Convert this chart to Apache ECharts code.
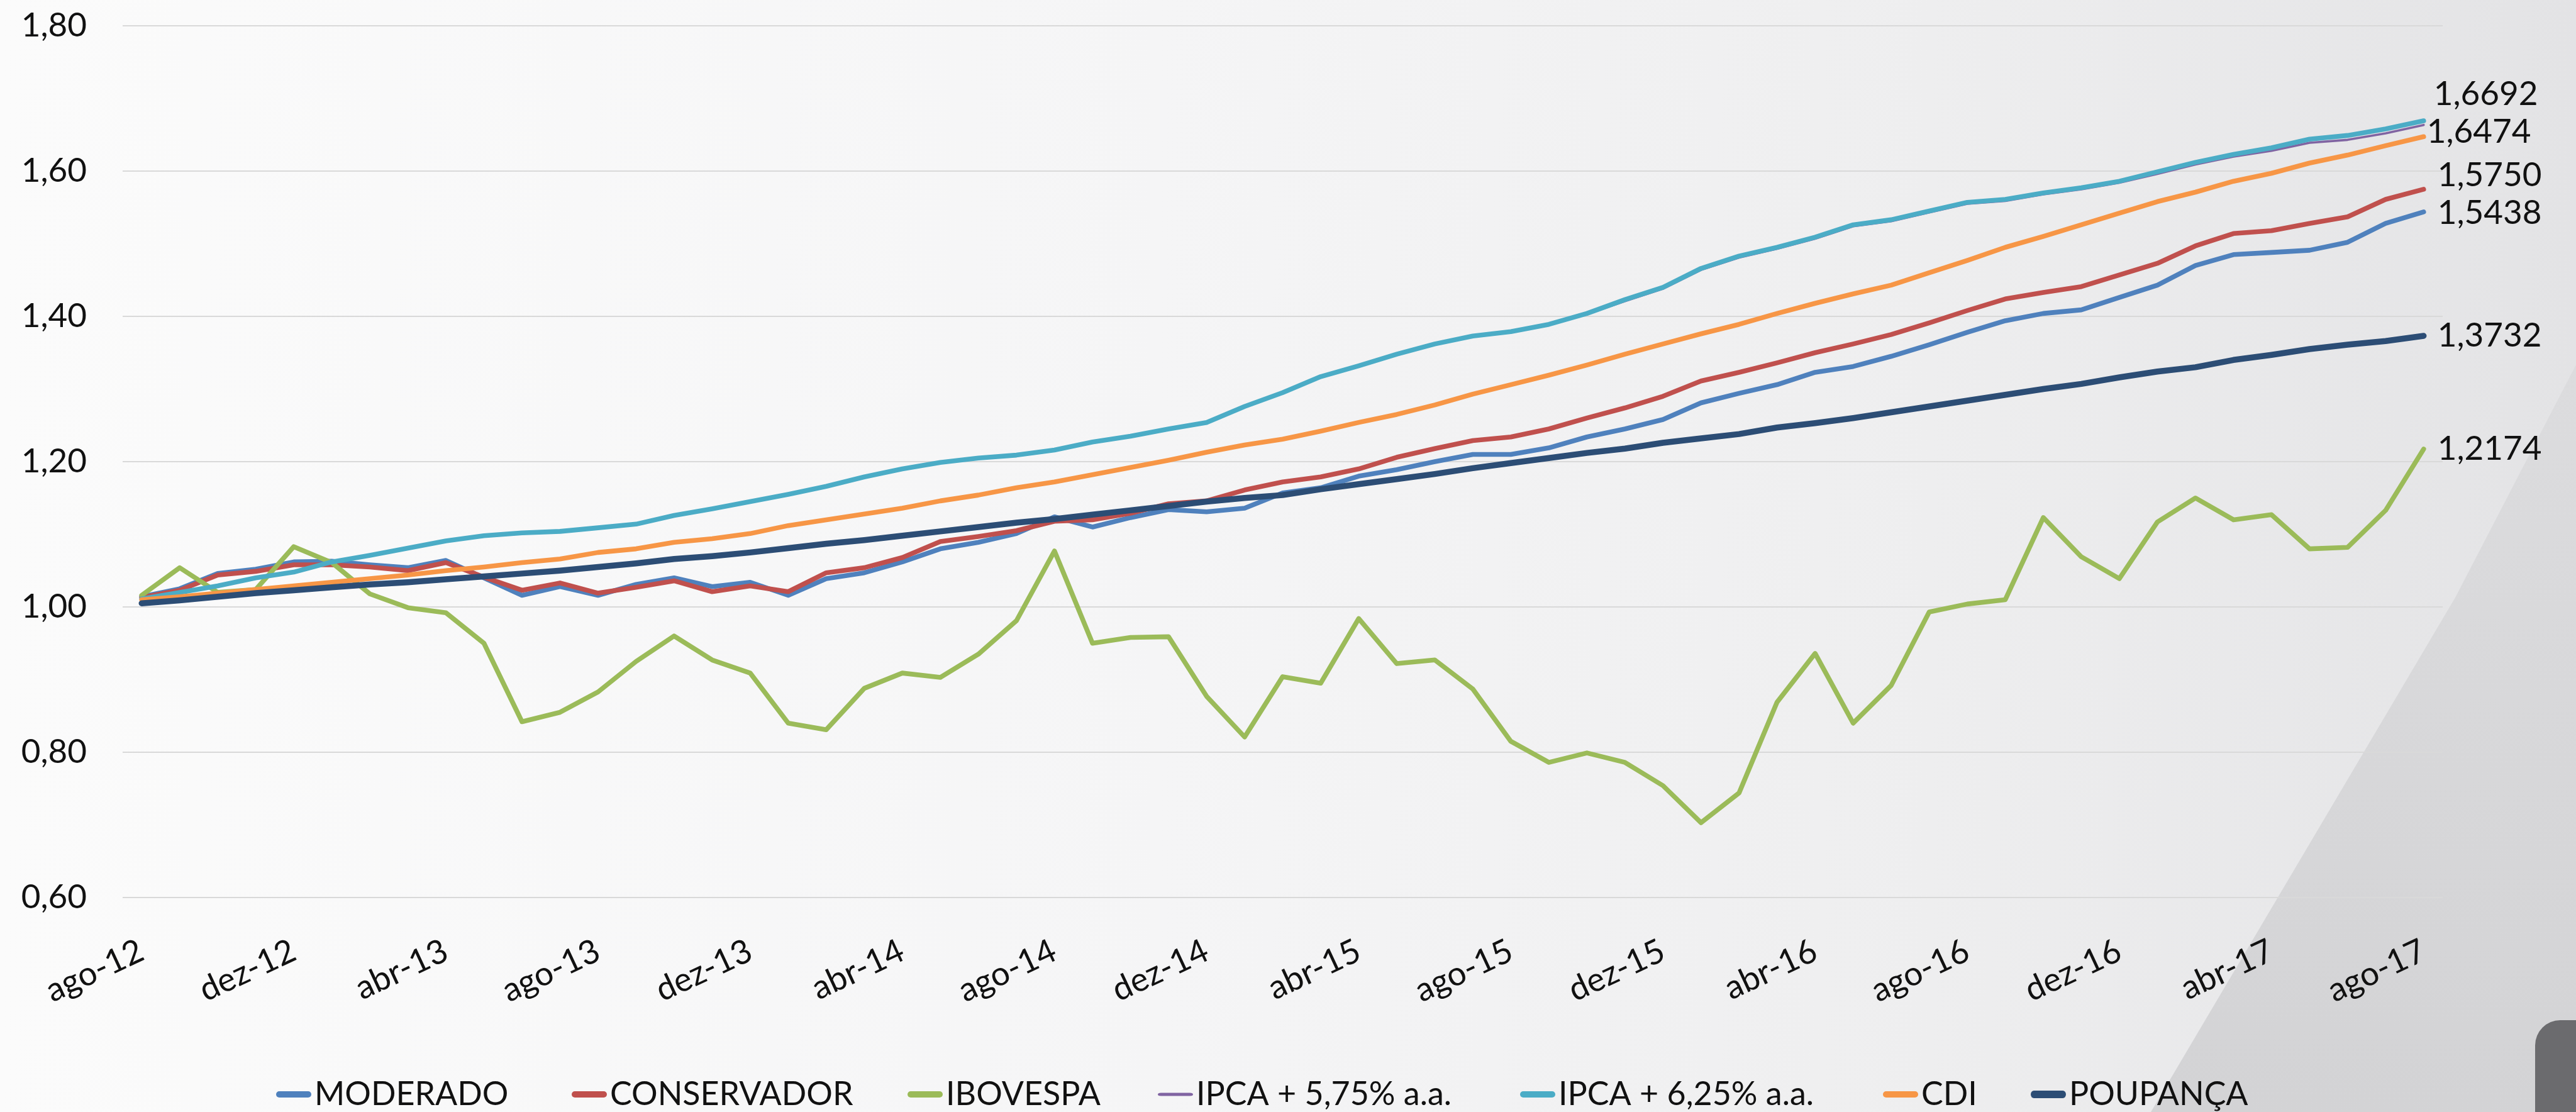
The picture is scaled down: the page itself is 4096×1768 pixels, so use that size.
<!DOCTYPE html>
<html>
<head>
<meta charset="utf-8">
<style>
  html, body { margin: 0; padding: 0; background: #f7f7f7; }
  #chart { width: 4096px; height: 1768px; }
</style>
<script src="https://cdn.jsdelivr.net/npm/echarts@6/dist/echarts.min.js"></script>
</head>
<body>
<div id="chart"></div>
<script>
// meses (ago-12 .. ago-17)
const meses = [
  'ago-12', 'set-12', 'out-12', 'nov-12', 'dez-12',
  'jan-13', 'fev-13', 'mar-13', 'abr-13', 'mai-13', 'jun-13', 'jul-13', 'ago-13', 'set-13', 'out-13', 'nov-13', 'dez-13',
  'jan-14', 'fev-14', 'mar-14', 'abr-14', 'mai-14', 'jun-14', 'jul-14', 'ago-14', 'set-14', 'out-14', 'nov-14', 'dez-14',
  'jan-15', 'fev-15', 'mar-15', 'abr-15', 'mai-15', 'jun-15', 'jul-15', 'ago-15', 'set-15', 'out-15', 'nov-15', 'dez-15',
  'jan-16', 'fev-16', 'mar-16', 'abr-16', 'mai-16', 'jun-16', 'jul-16', 'ago-16', 'set-16', 'out-16', 'nov-16', 'dez-16',
  'jan-17', 'fev-17', 'mar-17', 'abr-17', 'mai-17', 'jun-17', 'jul-17', 'ago-17'
];

const moderado = [
  1.014, 1.025, 1.046, 1.052, 1.062, 1.063, 1.058, 1.054, 1.064, 1.040,
  1.016, 1.028, 1.016, 1.031, 1.040, 1.028, 1.034, 1.016, 1.039, 1.047,
  1.062, 1.080, 1.089, 1.101, 1.124, 1.110, 1.123, 1.134, 1.131, 1.136,
  1.157, 1.164, 1.180, 1.189, 1.200, 1.210, 1.210, 1.219, 1.234, 1.245,
  1.258, 1.281, 1.294, 1.306, 1.323, 1.331, 1.345, 1.361, 1.378, 1.394,
  1.404, 1.409, 1.426, 1.443, 1.470, 1.485, 1.488, 1.491, 1.502, 1.528,
  1.5438
];

const conservador = [
  1.013, 1.023, 1.044, 1.049, 1.058, 1.058, 1.055, 1.050, 1.061, 1.041,
  1.023, 1.033, 1.019, 1.027, 1.036, 1.021, 1.029, 1.021, 1.047, 1.054,
  1.068, 1.090, 1.097, 1.105, 1.118, 1.120, 1.129, 1.142, 1.146, 1.161,
  1.172, 1.179, 1.190, 1.206, 1.218, 1.229, 1.234, 1.245, 1.260, 1.274,
  1.290, 1.311, 1.323, 1.336, 1.350, 1.362, 1.375, 1.391, 1.408, 1.424,
  1.433, 1.441, 1.457, 1.473, 1.497, 1.514, 1.518, 1.528, 1.537, 1.561,
  1.5750
];

const ibovespa = [
  1.016, 1.054, 1.020, 1.024, 1.083, 1.061, 1.018, 0.999, 0.992, 0.950,
  0.842, 0.855, 0.883, 0.925, 0.960, 0.927, 0.909, 0.840, 0.831, 0.888,
  0.909, 0.903, 0.935, 0.981, 1.077, 0.950, 0.958, 0.959, 0.877, 0.821,
  0.904, 0.895, 0.984, 0.922, 0.927, 0.887, 0.815, 0.786, 0.799, 0.786,
  0.754, 0.703, 0.744, 0.869, 0.936, 0.840, 0.892, 0.993, 1.004, 1.010,
  1.123, 1.069, 1.039, 1.117, 1.150, 1.120, 1.127, 1.080, 1.082, 1.133,
  1.2174
];

const ipca575 = [
  1.010, 1.019, 1.028, 1.039, 1.047, 1.061, 1.070, 1.080, 1.090, 1.097,
  1.101, 1.103, 1.108, 1.113, 1.125, 1.134, 1.144, 1.154, 1.165, 1.178,
  1.189, 1.198, 1.204, 1.208, 1.215, 1.226, 1.234, 1.244, 1.253, 1.275,
  1.294, 1.316, 1.331, 1.347, 1.361, 1.372, 1.378, 1.388, 1.403, 1.421,
  1.438, 1.464, 1.481, 1.493, 1.507, 1.524, 1.531, 1.543, 1.555, 1.559,
  1.568, 1.575, 1.584, 1.596, 1.609, 1.620, 1.628, 1.639, 1.643, 1.652,
  1.6635
];

const ipca625 = [
  1.011, 1.020, 1.029, 1.040, 1.048, 1.062, 1.071, 1.081, 1.091, 1.098,
  1.102, 1.104, 1.109, 1.114, 1.126, 1.135, 1.145, 1.155, 1.166, 1.179,
  1.190, 1.199, 1.205, 1.209, 1.216, 1.227, 1.235, 1.245, 1.254, 1.276,
  1.295, 1.317, 1.332, 1.348, 1.362, 1.373, 1.379, 1.389, 1.404, 1.423,
  1.440, 1.466, 1.483, 1.495, 1.509, 1.526, 1.533, 1.545, 1.557, 1.561,
  1.570, 1.577, 1.586, 1.599, 1.612, 1.623, 1.632, 1.644, 1.649, 1.658,
  1.6692
];

const cdi = [
  1.010, 1.014, 1.019, 1.024, 1.029, 1.034, 1.039, 1.044, 1.050, 1.055,
  1.061, 1.066, 1.075, 1.080, 1.089, 1.094, 1.101, 1.112, 1.120, 1.128,
  1.136, 1.146, 1.154, 1.164, 1.172, 1.182, 1.192, 1.202, 1.213, 1.223,
  1.231, 1.242, 1.254, 1.265, 1.278, 1.293, 1.306, 1.319, 1.333, 1.348,
  1.362, 1.376, 1.389, 1.404, 1.418, 1.431, 1.443, 1.460, 1.477, 1.495,
  1.510, 1.526, 1.542, 1.558, 1.571, 1.586, 1.597, 1.611, 1.622, 1.635,
  1.6474
];

const poupanca = [
  1.005, 1.009, 1.014, 1.019, 1.023, 1.027, 1.031, 1.034, 1.038, 1.042,
  1.046, 1.050, 1.055, 1.060, 1.066, 1.070, 1.075, 1.081, 1.087, 1.092,
  1.098, 1.104, 1.110, 1.116, 1.121, 1.127, 1.133, 1.139, 1.145, 1.150,
  1.154, 1.162, 1.169, 1.176, 1.183, 1.191, 1.198, 1.205, 1.212, 1.218,
  1.226, 1.232, 1.238, 1.247, 1.253, 1.260, 1.268, 1.276, 1.284, 1.292,
  1.300, 1.307, 1.316, 1.324, 1.330, 1.340, 1.347, 1.355, 1.361, 1.366,
  1.3732
];

const nomes = ['MODERADO', 'CONSERVADOR', 'IBOVESPA', 'IPCA + 5,75% a.a.', 'IPCA + 6,25% a.a.', 'CDI', 'POUPANÇA'];
const cores = ['#4F81BD', '#C0504D', '#9BBB59', '#8064A2', '#4BACC6', '#F79646', '#2C4D75'];

const fonte = 'Lato, "Noto Sans", sans-serif';
const pilula = 'path://M5,0H51A5,5,0,0,1,51,10H5A5,5,0,0,1,5,0Z';
const fmt4 = v => v.toFixed(4).replace('.', ',');

// rótulo no fim da linha (null = sem rótulo)
function serie(idx, dados, largura, rotulo) {
  return {
    name: nomes[idx],
    type: 'line',
    data: dados,
    showSymbol: false,
    silent: true,
    lineStyle: { color: cores[idx], width: largura, cap: 'round', join: 'round' },
    itemStyle: { color: cores[idx] },
    emphasis: { disabled: true },
    endLabel: rotulo ? Object.assign({
      show: true,
      formatter: p => fmt4(p.value),
      color: '#111',
      fontFamily: fonte,
      fontSize: 53,
      distance: 22
    }, rotulo) : { show: false }
  };
}

// uma legenda por item, para manter as posições do original
const legLeft = [434, 904, 1438, 1836, 2412, 2989, 3224];
const legAltura = [10, 10, 10, 5, 10, 10, 12];

const chart = echarts.init(document.getElementById('chart'), null, { renderer: 'canvas' });

chart.setOption({
  animation: false,
  graphic: [
    {
      type: 'rect', z: -100, silent: true,
      shape: { x: 0, y: 0, width: 4096, height: 1768 },
      style: {
        fill: new echarts.graphic.LinearGradient(0, 0, 1, 0, [
          { offset: 0, color: '#fbfbfb' },
          { offset: 0.45, color: '#f5f5f6' },
          { offset: 0.75, color: '#eeeeef' },
          { offset: 1, color: '#e3e3e5' }
        ])
      }
    },
    {
      type: 'polygon', z: -99, silent: true,
      shape: { points: [[4096, 580], [3904, 950], [3420, 1768], [4096, 1768]] },
      style: {
        fill: new echarts.graphic.LinearGradient(0, 0, 0, 1, [
          { offset: 0, color: '#dcdcde' },
          { offset: 1, color: '#d3d3d5' }
        ])
      }
    },
    {
      type: 'rect', z: -98, silent: true,
      shape: { x: 4031, y: 1622, width: 120, height: 200, r: 40 },
      style: { fill: '#6b6b6e' }
    }
  ],
  grid: { left: 195, right: 212, top: 41, bottom: 341 },
  legend: nomes.map((n, k) => ({
    data: [{ name: n, icon: pilula, itemStyle: { color: cores[k], borderWidth: 0 } }],
    left: legLeft[k],
    top: 1707,
    itemWidth: 56,
    itemHeight: legAltura[k],
    symbolKeepAspect: false,
    selectedMode: false,
    textStyle: { color: '#111', fontFamily: fonte, fontSize: 52, lineHeight: 56 }
  })),
  xAxis: {
    type: 'category',
    data: meses,
    boundaryGap: true,
    axisLine: { show: false },
    axisTick: { show: false },
    axisLabel: {
      interval: 3,
      rotate: 25,
      margin: 82,
      color: '#111',
      fontFamily: fonte,
      fontSize: 53
    }
  },
  yAxis: {
    type: 'value',
    min: 0.6,
    max: 1.8,
    interval: 0.2,
    axisLine: { show: false },
    axisTick: { show: false },
    splitLine: { lineStyle: { color: '#d9d9d9', width: 2 } },
    axisLabel: {
      margin: 57,
      color: '#111',
      fontFamily: fonte,
      fontSize: 53,
      formatter: v => v.toFixed(2).replace('.', ',')
    }
  },
  series: [
    serie(0, moderado, 7.6, { offset: [0, 2] }),
    serie(1, conservador, 7.6, { offset: [0, -22] }),
    serie(2, ibovespa, 7.6, { offset: [0, 0] }),
    serie(3, ipca575, 3.6, null),
    serie(4, ipca625, 7.6, { offset: [-6, -42] }),
    serie(5, cdi, 7.6, { offset: [-17, -7] }),
    serie(6, poupanca, 9.5, { offset: [0, 0] })
  ]
});
</script>
</body>
</html>
